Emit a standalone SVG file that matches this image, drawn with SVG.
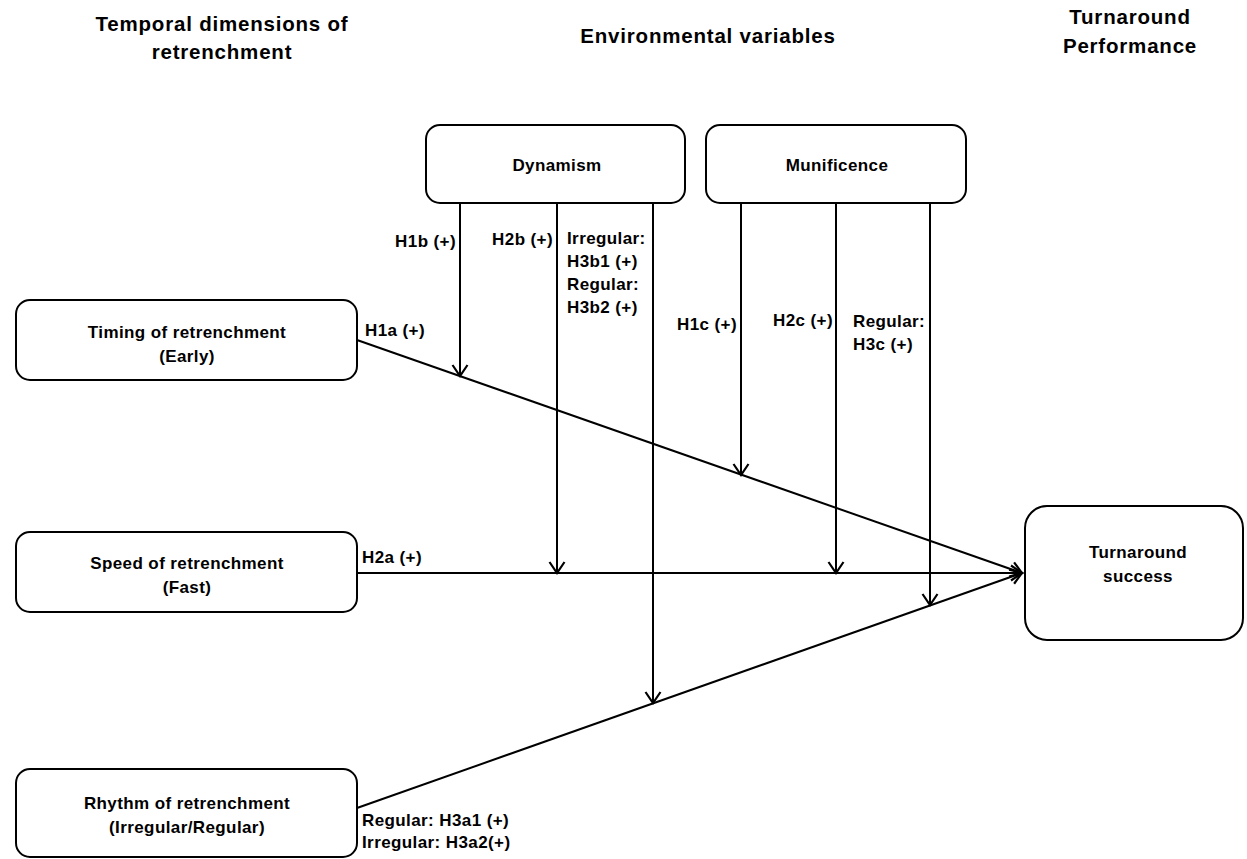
<svg xmlns="http://www.w3.org/2000/svg" width="1247" height="859" viewBox="0 0 1247 859">
<style>
text{font-family:"Liberation Sans",Arial,sans-serif;font-weight:bold;fill:#000}
.title{font-size:20.5px;letter-spacing:0.8px;text-anchor:middle}
.node{font-size:17px;letter-spacing:0.4px;text-anchor:middle}
.lbl{font-size:17px;letter-spacing:0.4px}
.end{text-anchor:end}
.box{fill:#fff;stroke:#000;stroke-width:2}
.con{stroke:#000;stroke-width:2;fill:none}
</style>
<defs>
<marker id="arr" markerUnits="userSpaceOnUse" markerWidth="24" markerHeight="24" refX="12" refY="8" orient="auto" viewBox="0 0 24 16">
<path d="M1,0.5 L12,8 L1,15.5" fill="none" stroke="#000" stroke-width="2.2"/>
</marker>
</defs>
<rect width="1247" height="859" fill="#fff"/>
<g id="headers">
<text class="title" x="222" y="31">Temporal dimensions of</text>
<text class="title" x="222" y="59">retrenchment</text>
<text class="title" x="708" y="43">Environmental variables</text>
<text class="title" x="1130" y="24">Turnaround</text>
<text class="title" x="1130" y="53">Performance</text>
</g>
<g id="connectors">
<line class="con" x1="357" y1="340" x2="1022" y2="573" marker-end="url(#arr)"/>
<line class="con" x1="357" y1="573" x2="1022" y2="573" marker-end="url(#arr)"/>
<line class="con" x1="357" y1="808" x2="1022" y2="573" marker-end="url(#arr)"/>
<line class="con" x1="460" y1="203" x2="460" y2="376" marker-end="url(#arr)"/>
<line class="con" x1="557" y1="203" x2="557" y2="573" marker-end="url(#arr)"/>
<line class="con" x1="653" y1="203" x2="653" y2="703" marker-end="url(#arr)"/>
<line class="con" x1="741" y1="203" x2="741" y2="475" marker-end="url(#arr)"/>
<line class="con" x1="836" y1="203" x2="836" y2="573" marker-end="url(#arr)"/>
<line class="con" x1="930" y1="203" x2="930" y2="605" marker-end="url(#arr)"/>
</g>
<g id="dynamism">
<rect class="box" x="426" y="125" width="259" height="78" rx="14"/>
<text class="node" x="557" y="171">Dynamism</text>
</g>
<g id="munificence">
<rect class="box" x="706" y="125" width="260" height="78" rx="14"/>
<text class="node" x="837" y="171">Munificence</text>
</g>
<g id="timing">
<rect class="box" x="16" y="300" width="341" height="80" rx="14"/>
<text class="node" x="187" y="338">Timing of retrenchment</text>
<text class="node" x="187" y="362">(Early)</text>
</g>
<g id="speed">
<rect class="box" x="16" y="532" width="341" height="80" rx="14"/>
<text class="node" x="187" y="569">Speed of retrenchment</text>
<text class="node" x="187" y="593">(Fast)</text>
</g>
<g id="rhythm">
<rect class="box" x="16" y="769" width="341" height="88" rx="14"/>
<text class="node" x="187" y="809">Rhythm of retrenchment</text>
<text class="node" x="187" y="833">(Irregular/Regular)</text>
</g>
<g id="turnaround">
<rect class="box" x="1025" y="506" width="218" height="134" rx="22"/>
<text class="node" x="1138" y="558">Turnaround</text>
<text class="node" x="1138" y="582">success</text>
</g>
<g id="labels">
<text class="lbl end" x="456" y="247">H1b (+)</text>
<text class="lbl end" x="553" y="245">H2b (+)</text>
<text class="lbl" x="567" y="244">Irregular:</text>
<text class="lbl" x="567" y="267">H3b1 (+)</text>
<text class="lbl" x="567" y="290">Regular:</text>
<text class="lbl" x="567" y="313">H3b2 (+)</text>
<text class="lbl" x="365" y="336">H1a (+)</text>
<text class="lbl end" x="737" y="330">H1c (+)</text>
<text class="lbl end" x="833" y="326">H2c (+)</text>
<text class="lbl" x="853" y="327">Regular:</text>
<text class="lbl" x="853" y="350">H3c (+)</text>
<text class="lbl" x="362" y="563">H2a (+)</text>
<text class="lbl" x="362" y="826">Regular: H3a1 (+)</text>
<text class="lbl" x="362" y="848">Irregular: H3a2(+)</text>
</g>
</svg>
